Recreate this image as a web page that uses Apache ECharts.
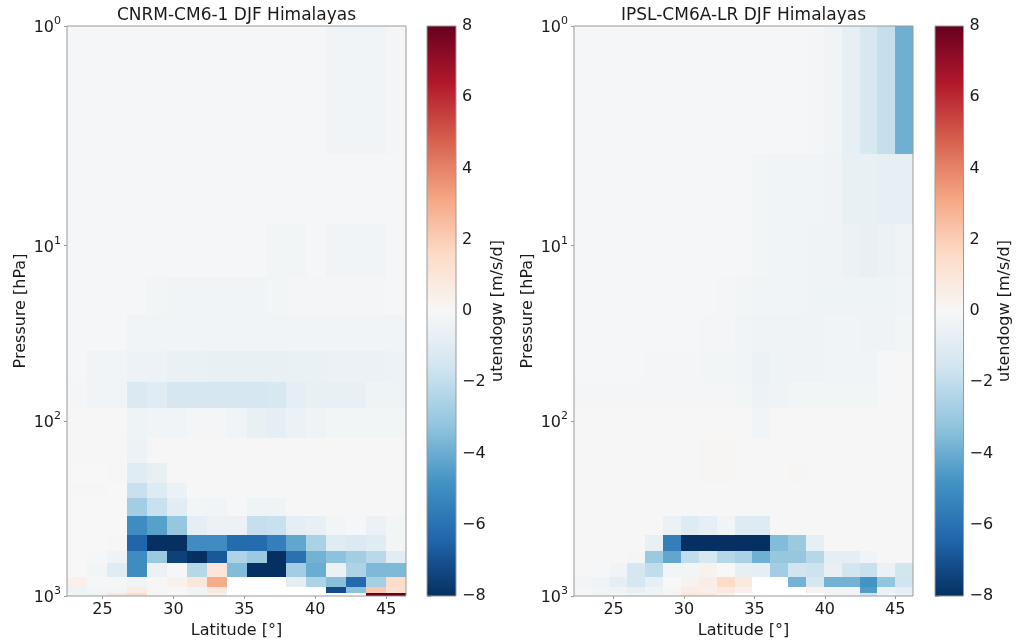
<!DOCTYPE html>
<html><head><meta charset="utf-8">
<script src="https://cdn.jsdelivr.net/npm/echarts@6/dist/echarts.min.js"></script>
<style>html,body{margin:0;padding:0;background:#fff;} #c{width:1019px;height:643px;}</style>
</head><body><div id="c"></div>
<script>
// ---------------- data ----------------
const levels = [1,5,10,20,30,50,70,100,150,200,250,300,400,500,600,700,850,925,1000];
const latCNRM = [23.20,24.61,26.02,27.42,28.83,30.23,31.64,33.05,34.45,35.86,37.27,38.67,40.08,41.48,42.89,44.30,45.70];
const latIPSL = [22.82,24.08,25.35,26.62,27.89,29.15,30.42,31.69,32.96,34.23,35.49,36.76,38.03,39.30,40.56,41.83,43.10,44.37,45.63];
const latTicks = [25,30,35,40,45];
const pressTicks = [1,10,100,1000];
const cbTicks = [-8,-6,-4,-2,0,2,4,6,8];
const N = null;
// CNRM-CM6-1 utendogw [m/s/d], rows follow levels, columns follow latCNRM
const cnrm = [
[-0.1,-0.1,-0.1,-0.1,-0.1,-0.1,-0.1,-0.1,-0.1,-0.1,-0.1,-0.1,-0.1,-0.3,-0.3,-0.3,-0.15],
[-0.1,-0.1,-0.1,-0.1,-0.1,-0.1,-0.1,-0.1,-0.1,-0.1,-0.1,-0.1,-0.1,-0.1,-0.1,-0.1,-0.1],
[-0.1,-0.1,-0.1,-0.1,-0.1,-0.1,-0.1,-0.1,-0.1,-0.1,-0.2,-0.2,-0.1,-0.25,-0.25,-0.25,-0.1],
[-0.1,-0.1,-0.1,-0.1,-0.2,-0.25,-0.25,-0.25,-0.25,-0.25,-0.2,-0.15,-0.15,-0.15,-0.15,-0.15,-0.1],
[-0.1,-0.1,-0.1,-0.25,-0.25,-0.25,-0.25,-0.25,-0.3,-0.3,-0.25,-0.3,-0.3,-0.3,-0.3,-0.3,-0.3],
[-0.1,-0.25,-0.25,-0.45,-0.45,-0.55,-0.55,-0.65,-0.65,-0.65,-0.65,-0.55,-0.55,-0.5,-0.5,-0.5,-0.45],
[-0.15,-0.3,-0.3,-1.2,-1.0,-1.4,-1.4,-1.4,-1.4,-1.4,-1.3,-0.8,-0.6,-0.6,-0.6,-0.4,-0.4],
[-0.05,-0.05,-0.05,-0.4,-0.3,-0.3,-0.15,-0.15,-0.25,-0.6,-0.8,-0.5,-0.35,-0.2,-0.2,-0.2,-0.2],
[-0.05,-0.05,-0.05,-0.45,-0.05,-0.05,-0.05,-0.05,-0.05,-0.05,-0.05,-0.05,-0.05,-0.05,-0.05,-0.05,-0.05],
[0,0,-0.05,-1.0,-0.6,-0.05,-0.05,-0.05,-0.05,-0.05,-0.05,-0.05,-0.05,-0.05,-0.05,-0.05,-0.05],
[0.05,0.05,0,-1.8,-1.1,-0.5,-0.05,-0.05,-0.05,-0.05,-0.05,-0.05,-0.05,-0.05,-0.05,-0.05,-0.05],
[0,0,0,-2.8,-1.8,-0.9,-0.2,-0.3,-0.1,-0.4,-0.4,-0.05,-0.05,-0.05,-0.05,-0.05,-0.05],
[0,0,0,-5.0,-4.4,-3.1,-0.8,-0.5,-0.5,-1.9,-1.8,-0.8,-0.6,-0.2,-0.1,-0.5,-0.2],
[0,0,-0.05,-6.4,-8,-8,-5.0,-5.0,-6.2,-6.2,-5.5,-4.2,-2.6,-1.0,-1.2,-1.0,-0.2],
[0,-0.1,-0.4,-5.0,-3.0,-7.5,-8,-6.8,-2.5,-3.0,-8,-6.0,-3.8,-3.3,-2.8,-2.2,-0.9],
[0,-0.2,-1.0,-5.0,-0.5,-0.1,-2.3,1.0,-3.5,-8,-8,-2.8,-4.0,-0.5,-2.5,-3.6,-3.6],
[0.4,-0.1,-0.1,-0.3,-0.05,0.3,0.9,3.0,N,N,N,-0.8,-2.5,-3.4,-6.3,-2.7,1.5],
[-0.4,-0.2,-0.2,0.6,-0.05,-0.1,-0.3,0.8,N,N,N,N,N,-7.2,-3.3,2.2,1.3],
[-0.2,-0.3,1.0,1.5,-0.1,0,-0.2,0.3,N,N,N,N,N,N,N,8,8]
];
// IPSL-CM6A-LR utendogw [m/s/d], rows follow levels, columns follow latIPSL
const ipsl = [
[-0.1,-0.1,-0.1,-0.1,-0.1,-0.1,-0.1,-0.1,-0.1,-0.1,-0.1,-0.1,-0.1,-0.15,-0.25,-0.7,-1.3,-1.9,-3.9],
[-0.1,-0.1,-0.1,-0.1,-0.1,-0.1,-0.1,-0.1,-0.1,-0.1,-0.2,-0.3,-0.3,-0.3,-0.35,-0.6,-0.6,-0.7,-0.7],
[-0.1,-0.1,-0.1,-0.1,-0.1,-0.1,-0.1,-0.1,-0.1,-0.1,-0.2,-0.3,-0.3,-0.35,-0.35,-0.5,-0.6,-0.5,-0.35],
[-0.1,-0.1,-0.1,-0.1,-0.1,-0.1,-0.1,-0.1,-0.15,-0.2,-0.3,-0.3,-0.25,-0.4,-0.4,-0.4,-0.4,-0.4,-0.25],
[-0.1,-0.1,-0.1,-0.1,-0.1,-0.1,-0.1,-0.15,-0.15,-0.25,-0.35,-0.35,-0.35,-0.35,-0.3,-0.3,-0.35,-0.35,-0.2],
[-0.1,-0.1,-0.1,-0.1,-0.15,-0.15,-0.15,-0.2,-0.2,-0.25,-0.5,-0.4,-0.35,-0.35,-0.3,-0.3,-0.3,-0.1,-0.05],
[-0.15,-0.15,-0.15,-0.15,-0.15,-0.15,-0.15,-0.15,-0.15,-0.2,-0.45,-0.35,-0.2,-0.2,-0.2,-0.2,-0.2,-0.1,-0.05],
[-0.05,-0.05,-0.05,-0.05,-0.05,-0.05,-0.05,-0.05,-0.05,-0.05,-0.25,-0.05,-0.05,-0.05,-0.05,-0.05,-0.05,-0.05,-0.05],
[-0.05,-0.05,-0.05,-0.05,-0.05,-0.05,-0.05,0.1,0.1,-0.05,-0.05,-0.05,-0.05,-0.05,-0.05,-0.05,-0.05,-0.05,-0.05],
[-0.05,-0.05,-0.05,-0.05,-0.05,-0.05,-0.05,0.1,0.1,0.05,-0.05,-0.05,0.1,-0.05,-0.05,-0.05,-0.05,-0.05,-0.05],
[-0.05,-0.05,-0.05,-0.05,-0.05,-0.05,-0.05,-0.05,-0.05,-0.05,-0.05,-0.05,-0.05,-0.05,-0.05,-0.05,-0.05,-0.05,0.05],
[-0.05,-0.05,-0.05,-0.05,-0.05,-0.05,-0.05,-0.05,-0.05,-0.05,-0.05,-0.05,-0.05,-0.05,-0.05,-0.05,-0.05,-0.05,-0.05],
[-0.05,-0.05,-0.05,-0.05,-0.05,-0.5,-1.1,-0.7,-0.3,-1.1,-1.1,-0.05,-0.05,-0.05,-0.05,-0.05,-0.05,-0.05,-0.05],
[-0.05,-0.05,-0.05,-0.05,-0.6,-5.5,-8,-8,-8,-8,-8,-3.5,-3.0,-0.7,-0.05,-0.05,-0.05,-0.05,-0.05],
[-0.05,-0.05,-0.05,-0.15,-3.0,-4.2,-2.0,-1.3,-2.3,-2.6,-3.9,-3.1,-3.1,-2.3,-0.8,-0.8,-0.3,-0.1,-0.05],
[-0.05,-0.1,-0.3,-1.4,-2.0,-0.2,-0.2,0.3,0,-0.7,-0.8,-2.8,-1.6,-1.7,-0.6,-1.5,-1.8,-0.5,-1.5],
[-0.2,-0.4,-0.8,-1.4,-0.7,0,0.3,0.6,1.5,0.8,N,N,-3.8,-1.4,-3.8,-3.8,-4.8,-3.2,-1.6],
[-0.15,-0.3,-0.4,-0.6,-0.4,0.05,0.6,0.5,0.8,0.4,N,N,N,0.3,-0.3,-0.3,-4.5,-0.5,-0.8],
[-0.1,-0.2,-0.1,-0.2,-0.2,0.2,1.0,0.8,0.3,N,N,N,N,N,-0.2,-0.3,-1.5,-0.3,-0.5]
];
const rdbu_r = ['#053061','#2166ac','#4393c3','#92c5de','#d1e5f0','#f7f7f7','#fddbc7','#f4a582','#d6604d','#b2182b','#67001f'];

// ---------------- helpers ----------------
function symlog(p){ const lt=2, ls=1/(1-1/10); const a=Math.abs(p); return a<=lt ? p*ls : Math.sign(p)*lt*(ls+Math.log10(a/lt)); }
function edges(c){ const n=c.length, e=[c[0]-(c[1]-c[0])/2]; for(let i=0;i<n-1;i++) e.push((c[i]+c[i+1])/2); e.push(c[n-1]+(c[n-1]-c[n-2])/2); return e; }
const pE = edges(levels);
function cells(lat, M){
  const lE = edges(lat), out=[];
  for(let r=0;r<M.length;r++) for(let c=0;c<M[r].length;c++){
    const v=M[r][c]; if(v===null) continue;
    out.push([lE[c], lE[c+1], symlog(pE[r]), symlog(pE[r+1]), v]);
  }
  return out;
}
function renderCell(params, api){
  const cs=params.coordSys;
  const p0=api.coord([api.value(0),api.value(2)]), p1=api.coord([api.value(1),api.value(3)]);
  let x0=Math.round(Math.min(p0[0],p1[0])), x1=Math.round(Math.max(p0[0],p1[0]));
  let y0=Math.round(Math.min(p0[1],p1[1])), y1=Math.round(Math.max(p0[1],p1[1]));
  x0=Math.max(x0,Math.round(cs.x)); x1=Math.min(x1,Math.round(cs.x+cs.width));
  y0=Math.max(y0,Math.round(cs.y)); y1=Math.min(y1,Math.round(cs.y+cs.height));
  if(x1<=x0||y1<=y0) return;
  return {type:'rect', shape:{x:x0,y:y0,width:x1-x0,height:y1-y0}, style:{fill:api.visual('color')}};
}
function renderBar(params, api){
  const p0=api.coord([api.value(0),api.value(2)]), p1=api.coord([api.value(1),api.value(3)]);
  const stops=rdbu_r.map((c,i)=>({offset:i/(rdbu_r.length-1), color:c}));
  return {type:'rect', shape:{x:p0[0],y:p1[1],width:p1[0]-p0[0],height:p0[1]-p1[1]},
    style:{fill:new echarts.graphic.LinearGradient(0,1,0,0,stops)}};
}
const FONT='DejaVu Sans', TXT='#1a1a1a', SPINE='#9a9a9a';
const yTickVals = pressTicks.map(symlog);
function yLab(v){ let k=0,b=1e9; yTickVals.forEach((t,i)=>{ if(Math.abs(t-v)<b){b=Math.abs(t-v);k=i;} }); return '{b|10}{s|'+Math.round(Math.log10(pressTicks[k]))+'}'; }

const grids=[
  {left:67, top:26, width:339, height:570},
  {left:574, top:26, width:339, height:570},
  {left:427, top:26, width:29, height:570},
  {left:935, top:26, width:28.5, height:570}
].map(g=>Object.assign(g,{show:true, z:10, backgroundColor:'transparent', borderColor:SPINE, borderWidth:1, containLabel:false, outerBoundsMode:'none'}));

function latAxis(gi, lat){
  const e=edges(lat);
  return {type:'value', gridIndex:gi, min:e[0], max:e[e.length-1], name:'Latitude [°]', nameLocation:'middle', nameGap:27,
    nameTextStyle:{fontFamily:FONT,fontSize:16,color:TXT},
    axisLine:{show:false}, splitLine:{show:false},
    axisTick:{show:true, customValues:latTicks, length:3, lineStyle:{color:SPINE}},
    axisLabel:{customValues:latTicks, fontFamily:FONT, fontSize:16, color:TXT, margin:6}};
}
function presAxis(gi){
  return {type:'value', gridIndex:gi, inverse:true, min:symlog(1), max:symlog(1000), name:'Pressure [hPa]', nameLocation:'middle', nameGap:38,
    nameTextStyle:{fontFamily:FONT,fontSize:16,color:TXT},
    axisLine:{show:false}, splitLine:{show:false},
    axisTick:{show:true, customValues:yTickVals, length:3, lineStyle:{color:SPINE}},
    axisLabel:{customValues:yTickVals, formatter:yLab, margin:6,
      rich:{b:{fontFamily:FONT,fontSize:16,color:TXT,verticalAlign:'bottom',lineHeight:20},
            s:{fontFamily:FONT,fontSize:11,color:TXT,verticalAlign:'top',lineHeight:11}}}};
}
function cbX(gi){ return {type:'value', gridIndex:gi, min:0, max:1, show:false}; }
function cbY(gi){
  return {type:'value', gridIndex:gi, position:'right', min:-8, max:8, interval:2, name:'utendogw [m/s/d]', nameLocation:'middle', nameRotate:90, nameGap:33,
    nameTextStyle:{fontFamily:FONT,fontSize:16,color:TXT},
    axisLine:{show:false}, splitLine:{show:false},
    axisTick:{show:true, length:4, lineStyle:{color:SPINE}},
    axisLabel:{fontFamily:FONT,fontSize:16,color:TXT,margin:6, formatter:v=>v<0?'\u2212'+Math.abs(v):String(v)}};
}

const chart=echarts.init(document.getElementById('c'),null,{renderer:'canvas'});
chart.setOption({
  animation:false,
  backgroundColor:'#ffffff',
  grid:grids,
  xAxis:[latAxis(0,latCNRM), latAxis(1,latIPSL), cbX(2), cbX(3)],
  yAxis:[presAxis(0), presAxis(1), cbY(2), cbY(3)],
  visualMap:[{type:'continuous', show:false, min:-8, max:8, dimension:4, seriesIndex:[0,1], inRange:{color:rdbu_r}}],
  series:[
    {type:'custom', xAxisIndex:0, yAxisIndex:0, renderItem:renderCell, data:cells(latCNRM,cnrm), encode:{x:[0,1],y:[2,3]}},
    {type:'custom', xAxisIndex:1, yAxisIndex:1, renderItem:renderCell, data:cells(latIPSL,ipsl), encode:{x:[0,1],y:[2,3]}},
    {type:'custom', xAxisIndex:2, yAxisIndex:2, renderItem:renderBar, data:[[0,1,-8,8]], encode:{x:[0,1],y:[2,3]}},
    {type:'custom', xAxisIndex:3, yAxisIndex:3, renderItem:renderBar, data:[[0,1,-8,8]], encode:{x:[0,1],y:[2,3]}}
  ],
  graphic:[
    {type:'text', x:236.5, y:16, style:{text:'CNRM-CM6-1 DJF Himalayas', font:'17px "DejaVu Sans"', fill:TXT, textAlign:'center', textVerticalAlign:'middle'}},
    {type:'text', x:743.5, y:16, style:{text:'IPSL-CM6A-LR DJF Himalayas', font:'17px "DejaVu Sans"', fill:TXT, textAlign:'center', textVerticalAlign:'middle'}}
  ]
});
</script></body></html>
